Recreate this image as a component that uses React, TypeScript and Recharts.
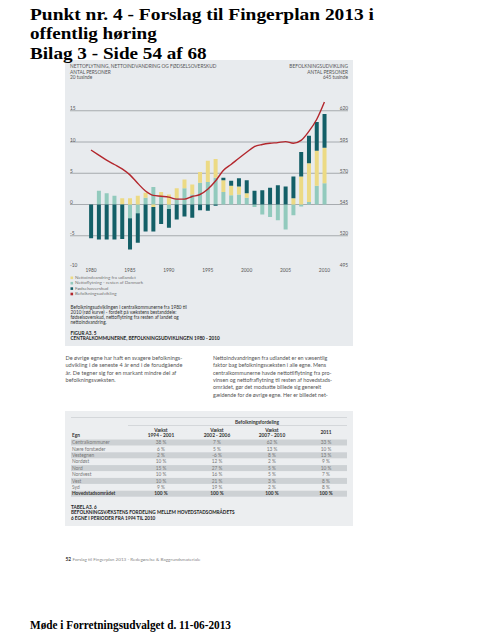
import React from 'react'
import { ComposedChart, Bar, Line, XAxis, YAxis, CartesianGrid } from 'recharts'

// Centralkommunerne 1980-2010, tusinde personer
const years = [
  1980, 1981, 1982, 1983, 1984, 1985, 1986, 1987, 1988, 1989, 1990, 1991, 1992, 1993, 1994, 1995,
  1996, 1997, 1998, 1999, 2000, 2001, 2002, 2003, 2004, 2005, 2006, 2007, 2008, 2009, 2010,
]
const nettoflytning = [
  0, 2.2, 1.8, 1.4, 0, -2.2, -1.4, 1.1, 2.8, 1.3, -0.7, 1.0, 2.6, 1.6, 3.5, 3.6,
  4.3, 2.0, 1.5, 1.6, 1.1, -0.4, -1.6, -2.0, -2.5, -4.0, -1.7, -0.3, 0.4, 3.0, 3.4,
]
const nettoindvandring = [
  0, 0, 0, 0, 1.0, 1.0, 1.4, 0.8, -0.4, 0.7, 1.6, 1.6, 1.4, 1.6, 1.7, 3.4,
  3.0, 1.9, 1.5, 1.3, 0.7, 0, 0, 0, 0, 0, 1.0, 4.5, 6.2, 5.6, 5.7,
]
const foedselsoverskud = [
  -5.4, -5.6, -5.6, -5.6, -5.5, -5.0, -4.7, -4.3, -3.9, -3.1, -3.0, -2.4, -1.9, -2.1, -0.9, -1.0,
  -0.2, 0.4, 0.8, 1.3, 2.1, 2.2, 2.3, 2.7, 3.1, 2.9, 3.5, 3.9, 4.4, 4.6, 5.4,
]
const befolkning = [
  588.6, 584.5, 580.5, 577, 573.5, 568.7, 562, 555.8, 552.3, 551.6, 550.9, 549.3, 549.3, 551.4, 553, 557.2,
  563.8, 572.2, 577, 582, 586.8, 591.3, 593, 594, 594.5, 595.3, 594, 596.3, 603.5, 613, 627,
]

const leftTicks = [-10, -5, 0, 5, 10, 15, 20]
const rightTicks = [495, 520, 545, 570, 595, 620, 645]
const gridValues = [-5, 0, 5, 10, 15]
const yearTicks = [1980, 1985, 1990, 1995, 2000, 2005, 2010]

const legendLabels = [
  'Nettoindvandring fra udlandet',
  'Nettoflytning - resten af Danmark',
  'Fødselsoverskud',
  'Befolkningsudvikling',
]

// Tabel A3.6
const egne = [
  'Centralkommuner', 'Nære forstæder', 'Vestegnen', 'Nordøst', 'Nord', 'Nordvest', 'Vest', 'Syd', 'Hovedstadsområdet',
]
const vaekst9401 = ['38 %', '6 %', '2 %', '10 %', '15 %', '10 %', '10 %', '9 %', '100 %']
const vaekst0206 = ['7 %', '5 %', '-6 %', '12 %', '27 %', '16 %', '21 %', '19 %', '100 %']
const vaekst0710 = ['62 %', '13 %', '8 %', '2 %', '5 %', '5 %', '3 %', '2 %', '100 %']
const andel2011 = ['33 %', '10 %', '13 %', '9 %', '10 %', '7 %', '8 %', '8 %', '100 %']

const DARK = '#135f67'
const LIGHT = '#92cabd'
const YELLOW = '#ecda84'
const RED = '#b3272d'
const PANEL = '#e8ebee'
const SANS = 'Lato, "Open Sans", sans-serif'
const SERIF = '"Liberation Serif", "Times New Roman", serif'

const rows = years.map((year, i) => ({
  year,
  flyt: nettoflytning[i],
  indv: nettoindvandring[i],
  foed: foedselsoverskud[i],
  bef: befolkning[i],
}))

const CHART_W = 288
const CHART_H = 225

const LeftTick = (props: any) => {
  const { y, payload } = props
  const v = payload.value
  return (
    <text x={5} y={y - 0.5} fontSize={4.8} fill="#555" fontFamily={SANS}>
      {v === 20 ? `${v} tusinde` : v}
    </text>
  )
}

const RightTick = (props: any) => {
  const { y, payload } = props
  const v = payload.value
  return (
    <text x={CHART_W - 5} y={y - 0.5} fontSize={4.8} fill="#555" fontFamily={SANS} textAnchor="end">
      {v === 645 ? `${v} tusinde` : v}
    </text>
  )
}

const YearTick = (props: any) => {
  const { x, y, payload } = props
  return (
    <text x={x} y={y + 4.5} fontSize={4.8} fill="#555" fontFamily={SANS} textAnchor="middle">
      {payload.value}
    </text>
  )
}

const T = ({ x, y, s = 4.8, c = '#555', b = false, a = 'start', f = SANS, w, children }: any) => (
  <text
    x={x}
    y={y}
    fontSize={s}
    fill={c}
    fontWeight={b ? 700 : 400}
    textAnchor={a}
    fontFamily={f}
    textLength={w}
    lengthAdjust={w ? 'spacingAndGlyphs' : undefined}
  >
    {children}
  </text>
)

const titleLines = ['Punkt nr. 4 - Forslag til Fingerplan 2013 i', 'offentlig høring', 'Bilag 3 - Side 54 af 68']
const titleWidths = [344, 126.7, 176.7]

const descLines = [
  'Befolkningsudviklingen i centralkommunerne fra 1980 til',
  '2010 (rød kurve) - fordelt på vækstens bestanddele:',
  'fødselsoverskud, nettoflytning fra resten af landet og',
  'nettoindvandring.',
]
const leftCol = [
  'De øvrige egne har haft en svagere befolknings-',
  'udvikling i de seneste 4 år end i de forudgående',
  'år. De tegner sig for en markant mindre del af',
  'befolkningsvæksten.',
]
const rightCol = [
  'Nettoindvandringen fra udlandet er en væsentlig',
  'faktor bag befolkningsvæksten i alle egne. Mens',
  'centralkommunerne havde nettotilflytning fra pro-',
  'vinsen og nettofraflytning til resten af hovedstads-',
  'området, gør det modsatte billede sig generelt',
  'gældende for de øvrige egne. Her er billedet net-',
]

const colX = [161, 217, 272, 326]

export default function App() {
  const legendColors = [YELLOW, LIGHT, DARK, RED]
  return (
    <div
      style={{ position: 'fixed', left: 0, top: 0, width: 495, height: 640, background: '#fff', overflow: 'hidden' }}
    >
      <svg width={495} height={640} style={{ position: 'absolute', left: 0, top: 0 }}>
        <rect x={65} y={60} width={288} height={286} fill={PANEL} />
        <rect x={65} y={411} width={288} height={115} fill="#eceef0" />

        {/* chart header */}
        <T x={70} y={68}>NETTOFLYTNING, NETTOINDVANDRING OG FØDSELSOVERSKUD</T>
        <T x={70} y={74}>ANTAL PERSONER</T>
        <T x={348} y={68} a="end">BEFOLKNINGSUDVIKLING</T>
        <T x={348} y={74} a="end">ANTAL PERSONER</T>

        {/* legend */}
        {legendLabels.map((l, i) => (
          <g key={l}>
            <rect x={70.5} y={276.5 + i * 5.4} width={2.6} height={2.6} fill={legendColors[i]} />
            <T x={75} y={279 + i * 5.4} s={4.6} c="#777">{l}</T>
          </g>
        ))}
        {descLines.map((l, i) => (
          <T key={l} x={70.5} y={308.5 + i * 5.1} s={4.7} c="#333">{l}</T>
        ))}
        <T x={70.5} y={334.5} s={4.7} c="#222" b>FIGUR A3. 5</T>
        <T x={70.5} y={340} s={4.7} c="#222" b>CENTRALKOMMUNERNE, BEFOLKNINGSUDVIKLINGEN 1980 - 2010</T>

        {/* body text */}
        {leftCol.map((l, i) => (
          <T key={l} x={65.5} y={360 + i * 7.35} s={5.6} c="#555">{l}</T>
        ))}
        {rightCol.map((l, i) => (
          <T key={l} x={213} y={360 + i * 7.35} s={5.4} c="#555">{l}</T>
        ))}

        {/* table */}
        <line x1={71} x2={347} y1={417.5} y2={417.5} stroke="#c4c8cb" strokeWidth={0.6} />
        <T x={257} y={423.5} s={4.8} c="#333" b a="middle">Befolkningsfordeling</T>
        <line x1={128} x2={347} y1={425.5} y2={425.5} stroke="#c4c8cb" strokeWidth={0.6} />
        {['1994 - 2001', '2002 - 2006', '2007 - 2010'].map((p, i) => (
          <g key={p}>
            <T x={colX[i]} y={431.5} s={4.8} c="#333" b a="middle">Vækst</T>
            <T x={colX[i]} y={436.5} s={4.8} c="#333" b a="middle">{p}</T>
          </g>
        ))}
        <T x={colX[3]} y={434} s={4.8} c="#333" b a="middle">2011</T>
        <T x={72} y={437} s={4.8} c="#333" b>Egn</T>
        {egne.map((e, i) => {
          const top = 439.5 + i * 6.4
          const last = i === egne.length - 1
          const c = last ? '#333' : '#777'
          return (
            <g key={e}>
              {i % 2 === 0 && <rect x={71} y={top} width={276} height={6} fill="#cdd1d4" />}
              <T x={72} y={top + 4.6} s={4.8} c={c} b={last}>{e}</T>
              <T x={colX[0]} y={top + 4.6} s={4.8} c={c} b={last} a="middle">{vaekst9401[i]}</T>
              <T x={colX[1]} y={top + 4.6} s={4.8} c={c} b={last} a="middle">{vaekst0206[i]}</T>
              <T x={colX[2]} y={top + 4.6} s={4.8} c={c} b={last} a="middle">{vaekst0710[i]}</T>
              <T x={colX[3]} y={top + 4.6} s={4.8} c={c} b={last} a="middle">{andel2011[i]}</T>
            </g>
          )
        })}
        <T x={71} y={508.5} s={4.7} c="#222" b>TABEL A3. 6</T>
        <T x={71} y={514} s={4.7} c="#222" b>BEFOLKNINGSVÆKSTENS FORDELING MELLEM HOVEDSTADSOMRÅDETS</T>
        <T x={71} y={519.5} s={4.7} c="#222" b>6 EGNE I PERIODER FRA 1994 TIL 2010</T>

        <T x={65.5} y={560.5} s={4.8} c="#333" b>52</T>
        <T x={72.5} y={560.5} s={4.6} c="#888">Forslag til Fingerplan 2013 - Redegørelse &amp; Baggrundsmateriale</T>
      </svg>

      <div style={{ position: 'absolute', left: 65, top: 60 }}>
        <ComposedChart
          width={CHART_W}
          height={CHART_H}
          data={rows}
          stackOffset="sign"
          margin={{ top: 19.5, right: 4, bottom: 0, left: 4 }}
        >
          <CartesianGrid
            yAxisId="left"
            vertical={false}
            horizontalValues={gridValues}
            stroke="#959a9e"
            strokeWidth={0.8}
          />
          <XAxis
            dataKey="year"
            type="number"
            domain={[1977.3, 2013.03]}
            ticks={yearTicks}
            height={18}
            axisLine={false}
            tickLine={false}
            tickSize={0}
            tickMargin={0}
            tick={<YearTick />}
            interval={0}
            allowDataOverflow
          />
          <YAxis
            yAxisId="left"
            domain={[-10, 20]}
            ticks={leftTicks}
            width={1}
            axisLine={false}
            tickLine={false}
            tick={<LeftTick />}
            interval={0}
            allowDataOverflow
          />
          <YAxis
            yAxisId="right"
            orientation="right"
            domain={[495, 645]}
            ticks={rightTicks}
            width={1}
            axisLine={false}
            tickLine={false}
            tick={<RightTick />}
            interval={0}
            allowDataOverflow
          />
          <Bar yAxisId="left" dataKey="flyt" stackId="a" fill={LIGHT} barSize={4} isAnimationActive={false} />
          <Bar yAxisId="left" dataKey="indv" stackId="a" fill={YELLOW} barSize={4} isAnimationActive={false} />
          <Bar yAxisId="left" dataKey="foed" stackId="a" fill={DARK} barSize={4} isAnimationActive={false} />
          <Line
            yAxisId="right"
            dataKey="bef"
            type="monotone"
            stroke={RED}
            strokeWidth={1.4}
            dot={false}
            isAnimationActive={false}
          />
        </ComposedChart>
      </div>

      <svg width={495} height={640} style={{ position: 'absolute', left: 0, top: 0, pointerEvents: 'none' }}>
        {titleLines.map((l, i) => (
          <T key={l} x={30} y={19.8 + i * 19.4} s={17.5} c="#000" b f={SERIF} w={titleWidths[i]}>
            {l}
          </T>
        ))}
        <T x={30} y={629.3} s={12.5} c="#000" b f={SERIF} w={201}>Møde i Forretningsudvalget d. 11-06-2013</T>
      </svg>
    </div>
  )
}
